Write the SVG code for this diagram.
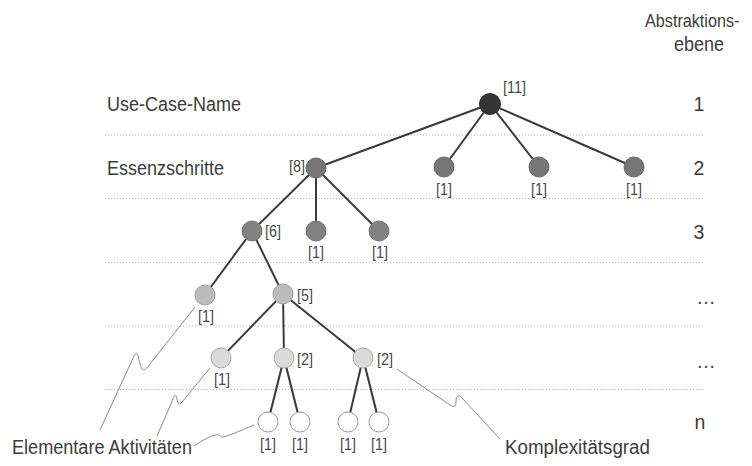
<svg xmlns="http://www.w3.org/2000/svg" width="752" height="466" viewBox="0 0 752 466">
<style>
.lvl{stroke:#b4b4b4;stroke-width:1;stroke-dasharray:1 2;fill:none}
.edge{stroke:#3a3a3a;stroke-width:2;fill:none}
.lead{stroke:#8a8a8a;stroke-width:1;fill:none}
.n0{fill:#363636;stroke:#2a2a2a;stroke-width:1}
.n1{fill:#767676;stroke:#6a6a6a;stroke-width:1}
.n2{fill:#828282;stroke:#747474;stroke-width:1}
.n3{fill:#bcbcbc;stroke:#a0a0a0;stroke-width:1}
.n4{fill:#dadada;stroke:#a8a8a8;stroke-width:1}
.n5{fill:#ffffff;stroke:#9a9a9a;stroke-width:1}
.big{font-family:"Liberation Sans",Arial,sans-serif;font-size:19.5px;fill:#3c3c3c}
.num{font-family:"Liberation Sans",Arial,sans-serif;font-size:16px;fill:#4a4a4a}
</style>
<rect width="752" height="466" fill="#ffffff"/>
<g id="levels">
<line class="lvl" x1="105" y1="135" x2="703" y2="135"/>
<line class="lvl" x1="105" y1="198.5" x2="703" y2="198.5"/>
<line class="lvl" x1="105" y1="262.5" x2="703" y2="262.5"/>
<line class="lvl" x1="105" y1="326" x2="703" y2="326"/>
<line class="lvl" x1="105" y1="389.5" x2="703" y2="389.5"/>
</g>
<g id="connectors">
<line class="edge" x1="490" y1="104" x2="316" y2="168"/>
<line class="edge" x1="490" y1="104" x2="444" y2="167"/>
<line class="edge" x1="490" y1="104" x2="539" y2="167"/>
<line class="edge" x1="490" y1="104" x2="634" y2="167"/>
<line class="edge" x1="316" y1="168" x2="252" y2="231"/>
<line class="edge" x1="316" y1="168" x2="316" y2="231"/>
<line class="edge" x1="316" y1="168" x2="379" y2="231"/>
<line class="edge" x1="252" y1="231" x2="205" y2="295"/>
<line class="edge" x1="252" y1="231" x2="283" y2="294"/>
<line class="edge" x1="283" y1="294" x2="221" y2="358"/>
<line class="edge" x1="283" y1="294" x2="284" y2="358"/>
<line class="edge" x1="283" y1="294" x2="363" y2="358"/>
<line class="edge" x1="284" y1="358" x2="268" y2="422"/>
<line class="edge" x1="284" y1="358" x2="300" y2="422"/>
<line class="edge" x1="363" y1="358" x2="348" y2="422"/>
<line class="edge" x1="363" y1="358" x2="379" y2="422"/>
<path class="lead" d="M195,307 L150,364 C145,371 142,372 140,364 C138,355 137,350 134,356 L100,430"/>
<path class="lead" d="M210,368 L182,402 C179,406 178,404 177,399 C176,394 175,394 173,399 L157,436"/>
<path class="lead" d="M194,446 C203,440 210,436 216,435 C220,434 220,437 222,437 C226,437 240,431 254,425"/>
<path class="lead" d="M397,369 L450,405 C455,408 456,406 456,401 C456,395 459,394 463,399 L500,439"/>
</g>
<g id="root"><circle class="n0" cx="490" cy="104" r="10.5"/><text class="num" x="503" y="93" textLength="23" lengthAdjust="spacingAndGlyphs">[11]</text></g>
<g id="s1"><circle class="n1" cx="316" cy="168" r="10"/><text class="num" x="289" y="172" textLength="16" lengthAdjust="spacingAndGlyphs">[8]</text></g>
<g id="s2"><circle class="n1" cx="444" cy="167" r="10"/><text class="num" x="436" y="195" textLength="16" lengthAdjust="spacingAndGlyphs">[1]</text></g>
<g id="s3"><circle class="n1" cx="539" cy="167" r="10"/><text class="num" x="531" y="195" textLength="16" lengthAdjust="spacingAndGlyphs">[1]</text></g>
<g id="s4"><circle class="n1" cx="634" cy="167" r="10"/><text class="num" x="626" y="195" textLength="16" lengthAdjust="spacingAndGlyphs">[1]</text></g>
<g id="a1"><circle class="n2" cx="252" cy="231" r="10"/><text class="num" x="265" y="237" textLength="16" lengthAdjust="spacingAndGlyphs">[6]</text></g>
<g id="a2"><circle class="n2" cx="316" cy="231" r="10"/><text class="num" x="308" y="258" textLength="16" lengthAdjust="spacingAndGlyphs">[1]</text></g>
<g id="a3"><circle class="n2" cx="379" cy="231" r="10"/><text class="num" x="372" y="258" textLength="16" lengthAdjust="spacingAndGlyphs">[1]</text></g>
<g id="b1"><circle class="n3" cx="205" cy="295" r="10"/><text class="num" x="198" y="322" textLength="16" lengthAdjust="spacingAndGlyphs">[1]</text></g>
<g id="b2"><circle class="n3" cx="283" cy="294" r="10"/><text class="num" x="297" y="301" textLength="16" lengthAdjust="spacingAndGlyphs">[5]</text></g>
<g id="c1"><circle class="n4" cx="221" cy="358" r="10"/><text class="num" x="214" y="385" textLength="16" lengthAdjust="spacingAndGlyphs">[1]</text></g>
<g id="c2"><circle class="n4" cx="284" cy="358" r="10"/><text class="num" x="297" y="365" textLength="16" lengthAdjust="spacingAndGlyphs">[2]</text></g>
<g id="c3"><circle class="n4" cx="363" cy="358" r="10"/><text class="num" x="377" y="365" textLength="16" lengthAdjust="spacingAndGlyphs">[2]</text></g>
<g id="d1"><circle class="n5" cx="268" cy="422" r="10"/><text class="num" x="260" y="450" textLength="16" lengthAdjust="spacingAndGlyphs">[1]</text></g>
<g id="d2"><circle class="n5" cx="300" cy="422" r="10"/><text class="num" x="292" y="450" textLength="16" lengthAdjust="spacingAndGlyphs">[1]</text></g>
<g id="d3"><circle class="n5" cx="348" cy="422" r="10"/><text class="num" x="340" y="450" textLength="16" lengthAdjust="spacingAndGlyphs">[1]</text></g>
<g id="d4"><circle class="n5" cx="379" cy="422" r="10"/><text class="num" x="371" y="450" textLength="16" lengthAdjust="spacingAndGlyphs">[1]</text></g>
<g id="labels">
<text class="big" transform="translate(645,27) scale(1,1.18)" style="font-size:16.2px">Abstraktions-</text>
<text class="big" x="699" y="51" text-anchor="middle" textLength="50" lengthAdjust="spacingAndGlyphs">ebene</text>
<text class="big" x="107" y="111" textLength="134" lengthAdjust="spacingAndGlyphs">Use-Case-Name</text>
<text class="big" x="107" y="175" textLength="117" lengthAdjust="spacingAndGlyphs">Essenzschritte</text>
<text class="big" x="12" y="454" textLength="180" lengthAdjust="spacingAndGlyphs">Elementare Aktivitäten</text>
<text class="big" x="505" y="454" textLength="145" lengthAdjust="spacingAndGlyphs">Komplexitätsgrad</text>
<text class="big" x="699" y="111" text-anchor="middle">1</text>
<text class="big" x="699" y="175" text-anchor="middle">2</text>
<text class="big" x="699" y="239" text-anchor="middle">3</text>
<text class="big" x="706" y="304" text-anchor="middle">…</text>
<text class="big" x="706" y="368" text-anchor="middle">…</text>
<text class="big" x="700" y="429" text-anchor="middle">n</text>
</g>
</svg>
